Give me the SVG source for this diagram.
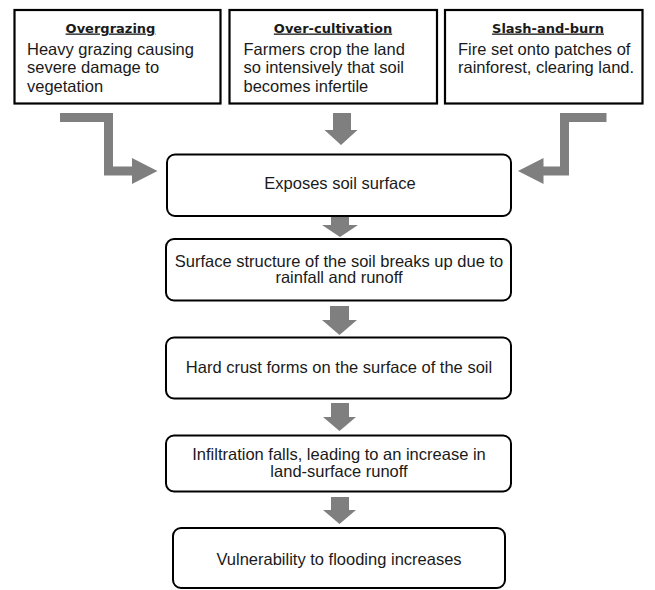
<svg xmlns="http://www.w3.org/2000/svg" width="655" height="590" viewBox="0 0 655 590">
<style>
.top{fill:#fff;stroke:#000;stroke-width:2.2}
.box{fill:#fff;stroke:#000;stroke-width:2}
.arr{fill:#7f7f7f;stroke:none}
.t{font-family:"Liberation Sans",Arial,sans-serif;font-size:16.5px;fill:#1a1a1a}
.b{font-family:"Liberation Sans",Arial,sans-serif;font-size:16.5px;fill:#1a1a1a}
.h{font-family:"DejaVu Sans",Verdana,sans-serif;font-size:13px;font-weight:bold;fill:#1a1a1a;text-decoration:underline}
</style>
<rect width="655" height="590" fill="#fff"/>
<g id="overgrazing">
<rect class="top" x="14.5" y="10" width="206" height="93.5"/>
<text class="h" x="110.5" y="32.5" text-anchor="middle">Overgrazing</text>
<text class="b" x="27" y="54.5">Heavy grazing causing</text>
<text class="b" x="27" y="73">severe damage to</text>
<text class="b" x="27" y="91.5">vegetation</text>
</g>
<g id="overcultivation">
<rect class="top" x="229.5" y="10" width="207.5" height="93.5"/>
<text class="h" x="333" y="32.5" text-anchor="middle">Over-cultivation</text>
<text class="b" x="243.5" y="54.5">Farmers crop the land</text>
<text class="b" x="243.5" y="73">so intensively that soil</text>
<text class="b" x="243.5" y="91.5">becomes infertile</text>
</g>
<g id="slashburn">
<rect class="top" x="445" y="10" width="197.5" height="93.5"/>
<text class="h" x="548" y="32.5" text-anchor="middle">Slash-and-burn</text>
<text class="b" x="458" y="54.5">Fire set onto patches of</text>
<text class="b" x="458" y="73">rainforest, clearing land.</text>
</g>
<g id="connectors">
<polygon class="arr" points="60,113 113,113 113,166.5 132,166.5 132,158 157.5,171 132,184 132,175.5 104,175.5 104,122 60,122"/>
<polygon class="arr" points="606.5,113 560,113 560,166.5 543.5,166.5 543.5,158 518,171 543.5,184 543.5,175.5 569,175.5 569,122 606.5,122"/>
<polygon class="arr" points="333,113 351,113 351,130 357.5,130 341,145 324.5,130 333,130"/>
<polygon class="arr" points="331,216 349,216 349,225 358,225 340,237 322,225 331,225"/>
<polygon class="arr" points="330,306 349,306 349,320 357,320 339.5,335 322,320 330,320"/>
<polygon class="arr" points="331,403 349,403 349,417 356,417 339.5,431 323,417 331,417"/>
<polygon class="arr" points="331,497 349,497 349,510 356,510 339.5,524 323,510 331,510"/>
</g>
<g id="exposes">
<rect class="box" x="167" y="154.5" width="344" height="61.5" rx="8"/>
<text class="t" x="340" y="188.5" text-anchor="middle">Exposes soil surface</text>
</g>
<g id="surface">
<rect class="box" x="166" y="239" width="345" height="61.5" rx="8"/>
<text class="t" x="339" y="266.5" text-anchor="middle">Surface structure of the soil breaks up due to</text>
<text class="t" x="339" y="283" text-anchor="middle">rainfall and runoff</text>
</g>
<g id="crust">
<rect class="box" x="166" y="337.5" width="345" height="61" rx="8"/>
<text class="t" x="339" y="373" text-anchor="middle">Hard crust forms on the surface of the soil</text>
</g>
<g id="infiltration">
<rect class="box" x="166" y="435.5" width="345" height="56" rx="8"/>
<text class="t" x="339" y="460" text-anchor="middle">Infiltration falls, leading to an increase in</text>
<text class="t" x="339" y="477" text-anchor="middle">land-surface runoff</text>
</g>
<g id="vulnerability">
<rect class="box" x="173" y="528" width="332" height="60" rx="8"/>
<text class="t" x="339" y="565" text-anchor="middle">Vulnerability to flooding increases</text>
</g>
</svg>
